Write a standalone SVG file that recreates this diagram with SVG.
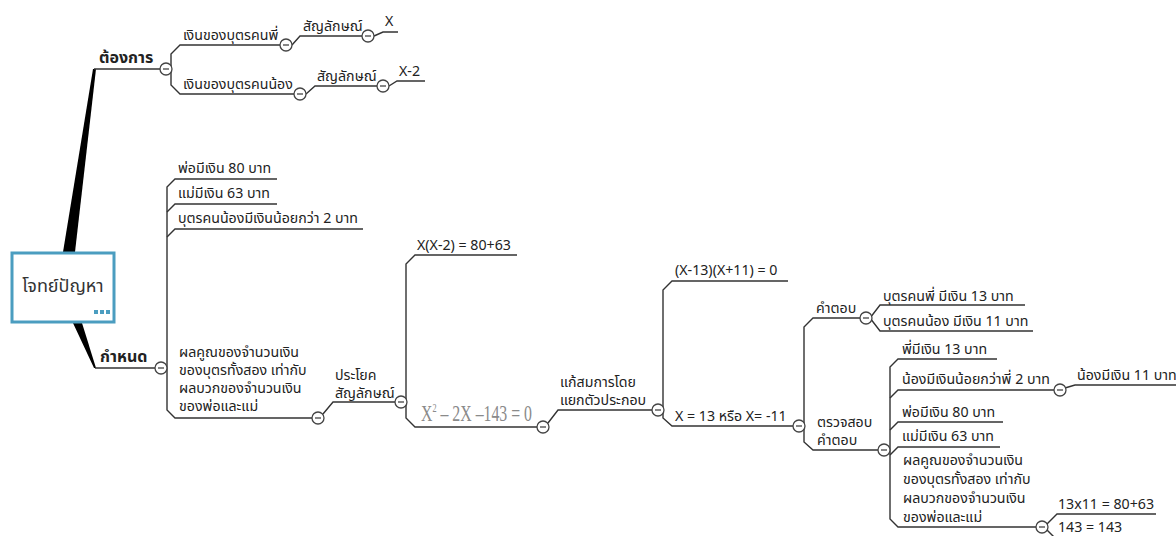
<svg xmlns="http://www.w3.org/2000/svg" width="1176" height="536" viewBox="0 0 1176 536">
<style>
.ln{fill:none;stroke:#333;stroke-width:1.4}
.t{font-family:"Noto Sans Thai","Tahoma","Noto Sans","DejaVu Sans",sans-serif;font-size:14.2px;fill:#222}
.b{font-family:"Noto Sans Thai","Tahoma","Noto Sans","DejaVu Sans",sans-serif;font-size:16px;font-weight:bold;fill:#222}
.m{font-family:"Liberation Serif","Times New Roman",serif;font-size:23px;fill:#8a8a8a}
</style>
<defs>
<g id="tg"><circle r="6" fill="#fff" stroke="#444" stroke-width="1.3"/><line x1="-3" y1="0" x2="3" y2="0" stroke="#444" stroke-width="1.3"/></g>
</defs>
<rect width="1176" height="536" fill="#fff"/>
<g id="connectors">
<polygon points="63,252 75,252 96,69 93,69" fill="#000"/>
<polygon points="73,323 82,323 96,368 94,368" fill="#000"/>
<path class="ln" d="M94,69 H160"/>
<path class="ln" d="M95,368 H155"/>
<path class="ln" d="M280,45 H180 L171,54 V85 L180,94 H294"/>
<path class="ln" d="M292,45 L300,36 H362"/>
<path class="ln" d="M374,36 L383,32 H398"/>
<path class="ln" d="M306,94 L315,86 H377"/>
<path class="ln" d="M389,86 L397,81 H425"/>
<path class="ln" d="M277,179 H175 L167,187 V410 L175,418 H312"/>
<path class="ln" d="M167,212 L175,204 H277"/>
<path class="ln" d="M167,237 L175,229 H363"/>
<path class="ln" d="M323,414 L333,402 H395"/>
<path class="ln" d="M517,255 H415 L406,264 V418 L415,427 H537"/>
<path class="ln" d="M548,423 L558,410 H652"/>
<path class="ln" d="M788,281 H672 L663,290 V418 L672,426 H793"/>
<path class="ln" d="M860,318 H813 L804,327 V442 L813,450 H878"/>
<path class="ln" d="M1025,305 H880 L870,318 L880,331 H1033"/>
<path class="ln" d="M997,359 H898 L890,367 V519 L898,527 H1036"/>
<path class="ln" d="M890,398 L898,390 H1054"/>
<path class="ln" d="M890,430 L898,422 H1003"/>
<path class="ln" d="M890,455 L898,447 H1000"/>
<path class="ln" d="M1065,388 L1075,385 H1176"/>
<path class="ln" d="M1047,524 L1057,514 H1156"/>
<path class="ln" d="M1047,530 L1057,540"/>
</g>
<g id="toggles">
<use href="#tg" x="166" y="69"/>
<use href="#tg" x="161" y="368"/>
<use href="#tg" x="286" y="45"/>
<use href="#tg" x="300" y="94"/>
<use href="#tg" x="368" y="36"/>
<use href="#tg" x="383" y="86"/>
<use href="#tg" x="318" y="418"/>
<use href="#tg" x="401" y="402"/>
<use href="#tg" x="543" y="427"/>
<use href="#tg" x="658" y="410"/>
<use href="#tg" x="799" y="426"/>
<use href="#tg" x="866" y="318"/>
<use href="#tg" x="884" y="450"/>
<use href="#tg" x="1060" y="390"/>
<use href="#tg" x="1042" y="527"/>
</g>
<g id="root">
<rect x="12" y="253" width="102" height="69" fill="#fff" stroke="#4b9dc0" stroke-width="3"/>
<text x="63" y="292" text-anchor="middle" class="t" style="font-size:18px;fill:#333">โจทย์ปัญหา</text>
<rect x="94" y="310" width="4" height="4" fill="#4b9dc0"/>
<rect x="100" y="310" width="4" height="4" fill="#4b9dc0"/>
<rect x="106" y="310" width="4" height="4" fill="#4b9dc0"/>
</g>
<g id="want"><text x="99" y="63" class="b">ต้องการ</text></g>
<g id="given"><text x="100" y="362" class="b">กำหนด</text></g>
<g id="n-elder"><text x="183" y="40" class="t">เงินของบุตรคนพี่</text></g>
<g id="n-younger"><text x="183" y="89" class="t">เงินของบุตรคนน้อง</text></g>
<g id="n-sym1"><text x="303" y="31" class="t">สัญลักษณ์</text></g>
<g id="n-sym2"><text x="317" y="81" class="t">สัญลักษณ์</text></g>
<g id="n-x"><text x="385" y="26" class="t">X</text></g>
<g id="n-x2"><text x="399" y="76" class="t">X-2</text></g>
<g id="n-dad"><text x="178" y="173" class="t">พ่อมีเงิน 80 บาท</text></g>
<g id="n-mom"><text x="178" y="198" class="t">แม่มีเงิน 63 บาท</text></g>
<g id="n-less"><text x="178" y="223" class="t">บุตรคนน้องมีเงินน้อยกว่า 2 บาท</text></g>
<g id="n-prod"><text class="t"><tspan x="179" y="357">ผลคูณของจำนวนเงิน</tspan><tspan x="179" y="375">ของบุตรทั้งสอง เท่ากับ</tspan><tspan x="179" y="393">ผลบวกของจำนวนเงิน</tspan><tspan x="179" y="411">ของพ่อและแม่</tspan></text></g>
<g id="n-sentence"><text class="t"><tspan x="335" y="380">ประโยค</tspan><tspan x="335" y="398">สัญลักษณ์</tspan></text></g>
<g id="n-eq1"><text x="417" y="250" class="t">X(X-2) = 80+63</text></g>
<g id="n-eq2"><text x="421" y="421" class="m" textLength="111" lengthAdjust="spacingAndGlyphs">X<tspan dy="-9" font-size="12">2</tspan><tspan dy="9"> – 2X –143 = 0</tspan></text></g>
<g id="n-solve"><text class="t"><tspan x="560" y="387">แก้สมการโดย</tspan><tspan x="560" y="405">แยกตัวประกอบ</tspan></text></g>
<g id="n-factor"><text x="675" y="275" class="t">(X-13)(X+11) = 0</text></g>
<g id="n-roots"><text x="675" y="421" class="t">X = 13 หรือ X= -11</text></g>
<g id="n-answer"><text x="816" y="313" class="t">คำตอบ</text></g>
<g id="n-ans1"><text x="883" y="301" class="t">บุตรคนพี่ มีเงิน  13 บาท</text></g>
<g id="n-ans2"><text x="883" y="326" class="t">บุตรคนน้อง มีเงิน 11 บาท</text></g>
<g id="n-check"><text class="t"><tspan x="817" y="427">ตรวจสอบ</tspan><tspan x="817" y="445">คำตอบ</tspan></text></g>
<g id="n-c1"><text x="902" y="354" class="t">พี่มีเงิน 13 บาท</text></g>
<g id="n-c2"><text x="902" y="384" class="t">น้องมีเงินน้อยกว่าพี่ 2 บาท</text></g>
<g id="n-c2a"><text x="1077" y="380" class="t">น้องมีเงิน 11 บาท</text></g>
<g id="n-c3"><text x="902" y="417" class="t">พ่อมีเงิน  80 บาท</text></g>
<g id="n-c4"><text x="902" y="441" class="t">แม่มีเงิน 63 บาท</text></g>
<g id="n-c5"><text class="t"><tspan x="903" y="465">ผลคูณของจำนวนเงิน</tspan><tspan x="903" y="484">ของบุตรทั้งสอง เท่ากับ</tspan><tspan x="903" y="503">ผลบวกของจำนวนเงิน</tspan><tspan x="903" y="522">ของพ่อและแม่</tspan></text></g>
<g id="n-v1"><text x="1058" y="509" class="t">13x11 = 80+63</text></g>
<g id="n-v2"><text x="1058" y="532" class="t">143 = 143</text></g>
</svg>
